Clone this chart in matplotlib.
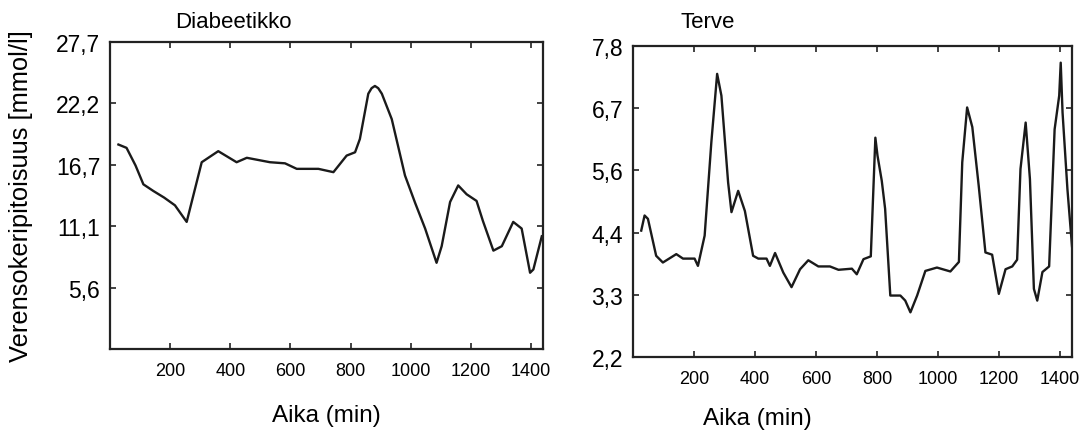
import matplotlib
matplotlib.use("Agg")
import matplotlib.pyplot as plt

plt.rcParams["font.family"] = ["Liberation Sans", "DejaVu Sans"]

# ── Data ──────────────────────────────────────────────────────────────────────
diab_t = [28, 55, 85, 111, 144, 180, 216, 255, 305, 360, 421, 455, 532, 582, 621,
          693, 743, 787, 815, 831, 859, 870, 881, 892, 904, 937, 981, 1015, 1048,
          1086, 1103, 1131, 1158, 1186, 1219, 1240, 1275, 1303, 1341, 1369, 1397,
          1408, 1436]
diab_g = [18.5, 18.2, 16.6, 14.9, 14.3, 13.7, 13.0, 11.5, 16.9, 17.9, 16.9, 17.3,
          16.9, 16.8, 16.3, 16.3, 16.0, 17.5, 17.8, 19.0, 23.1, 23.6, 23.8, 23.6,
          23.1, 20.8, 15.7, 13.2, 10.9, 7.8, 9.3, 13.3, 14.8, 14.0, 13.4, 11.6, 8.9,
          9.3, 11.5, 10.9, 6.9, 7.2, 10.2]

terve_t = [27, 38, 49, 76, 98, 142, 164, 202, 213, 235, 257, 276, 290, 312, 323,
           345, 367, 394, 411, 438, 449, 466, 493, 520, 548, 575, 608, 646, 674,
           718, 734, 756, 780, 795, 802, 816, 827, 844, 877, 893, 910, 932, 959,
           997, 1041, 1069, 1080, 1096, 1113, 1134, 1156, 1178, 1200, 1222, 1244,
           1260, 1271, 1288, 1302, 1315, 1326, 1343, 1365, 1383, 1398, 1403, 1409,
           1425, 1440]
terve_g = [4.48, 4.75, 4.69, 4.03, 3.91, 4.06, 3.98, 3.98, 3.85, 4.39, 6.06, 7.28,
           6.89, 5.34, 4.81, 5.19, 4.83, 4.03, 3.98, 3.98, 3.85, 4.08, 3.73, 3.47,
           3.79, 3.95, 3.84, 3.84, 3.78, 3.80, 3.70, 3.97, 4.02, 6.14, 5.82, 5.37,
           4.87, 3.32, 3.32, 3.23, 3.02, 3.32, 3.76, 3.82, 3.75, 3.92, 5.70, 6.68,
           6.33, 5.28, 4.09, 4.05, 3.35, 3.79, 3.84, 3.96, 5.58, 6.41, 5.40, 3.44,
           3.23, 3.74, 3.84, 6.29, 6.89, 7.48, 6.59, 5.22, 4.20]

x_ticks = [200, 400, 600, 800, 1000, 1200, 1400]
diab_yticks = [100 / 18, 200 / 18, 300 / 18, 400 / 18, 500 / 18]
diab_ylabels = ["5,6", "11,1", "16,7", "22,2", "27,7"]
terve_yticks = [40 / 18, 60 / 18, 80 / 18, 100 / 18, 120 / 18, 140 / 18]
terve_ylabels = ["2,2", "3,3", "4,4", "5,6", "6,7", "7,8"]

W, H = 1085, 431
fig = plt.figure(figsize=(W / 100, H / 100), dpi=100)


def px_box(x0, y0, x1, y1):
    return [x0 / W, 1 - y1 / H, (x1 - x0) / W, (y1 - y0) / H]


ax1 = fig.add_axes(px_box(110, 43, 543, 350))
ax2 = fig.add_axes(px_box(633, 47, 1072, 358))

line_kw = dict(color="#1a1a1a", linewidth=1.7, solid_joinstyle="round")
ax1.plot(diab_t, diab_g, **line_kw)
ax2.plot(terve_t, terve_g, **line_kw)

ax1.set_ylim(0, 500 / 18)
ax1.set_yticks(diab_yticks)
ax1.set_yticklabels(diab_ylabels)
ax2.set_ylim(40 / 18, 140 / 18)
ax2.set_yticks(terve_yticks)
ax2.set_yticklabels(terve_ylabels)

for ax in (ax1, ax2):
    ax.set_xlim(0, 1440)
    ax.set_xticks(x_ticks)
    ax.set_xticklabels([str(v) for v in x_ticks])
    ax.tick_params(direction="in", top=True, right=True, length=4, width=1.2,
                   color="#222222")
    ax.tick_params(axis="y", labelsize=16.5, pad=7)
    ax.tick_params(axis="x", labelsize=13, pad=9.5)
    for sp in ax.spines.values():
        sp.set_linewidth(1.6)
        sp.set_color("#222222")

ax1.set_xlabel("Aika (min)", fontsize=17.5, labelpad=18)
ax1.set_ylabel("Verensokeripitoisuus [mmol/l]", fontsize=18.4)
ax1.yaxis.set_label_coords((33 - 110) / 433, 0.5)

ax2.set_xlabel("Aika (min)", fontsize=17.5)
ax2.xaxis.set_label_coords((757 - 633) / 439, -0.16)

fig.text(233 / W, 1 - 22 / H, "Diabeetikko", fontsize=16, ha="center", va="center")
fig.text(708 / W, 1 - 23 / H, "Terve", fontsize=16, ha="center", va="center")

fig.savefig("out.png", dpi=100)
